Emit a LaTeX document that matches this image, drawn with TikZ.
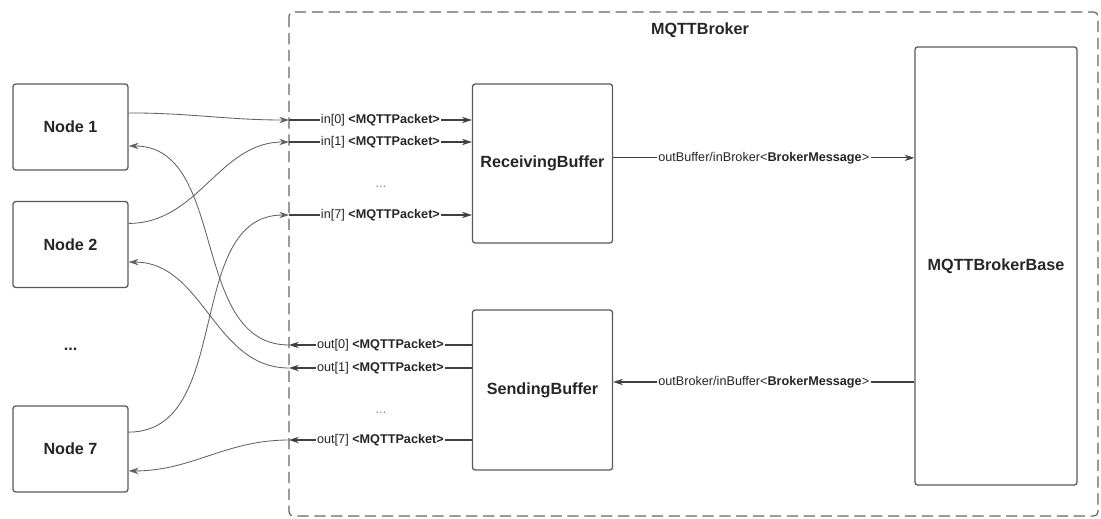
\documentclass[tikz,border=0pt]{standalone}
\usepackage{fontspec}
\setmainfont{Liberation Sans}
\usetikzlibrary{arrows.meta}

\tikzset{
  box/.style={draw=black!65, line width=0.9pt, rounded corners=2pt, align=center,
    text=black!85, font=\fontsize{11.5}{13}\selectfont\bfseries},
  conn/.style={draw=black!75, line width=0.8pt, -{Stealth[length=7pt,width=4.5pt]}},
  ext/.style={draw=black!62, line width=0.6pt, -{Stealth[length=7pt,width=4.5pt]}},
  lbl/.style={fill=white, inner sep=1pt, text=black!85, font=\fontsize{9}{10}\selectfont},
}

\begin{document}
\begin{tikzpicture}[x=0.025cm, y=-0.025cm]
\useasboundingbox (0,0) rectangle (1101,519);

% broker boundary
\draw[black!60, line width=0.9pt, dash pattern=on 8pt off 4pt, rounded corners=3pt] (289,12) rectangle (1098,516);
\node[text=black!85, font=\fontsize{11.5}{13}\selectfont\bfseries] (title) at (700,30) {MQTTBroker};

% clients
\node[box, minimum width=2.875cm, minimum height=2.15cm] (n1) at (70.5,127) {Node 1};
\node[box, minimum width=2.875cm, minimum height=2.15cm] (n2) at (70.5,244.5) {Node 2};
\node[text=black!85, font=\fontsize{11.5}{13}\selectfont\bfseries] (ndots) at (70.5,349) {...};
\node[box, minimum width=2.875cm, minimum height=2.15cm] (n7) at (70.5,449) {Node 7};

% broker parts
\node[box, minimum width=3.5cm, minimum height=3.975cm] (recv) at (542.5,163.5) {ReceivingBuffer};
\node[box, minimum width=3.5cm, minimum height=4cm] (send) at (542.5,390) {SendingBuffer};
\node[box, minimum width=4.05cm, minimum height=10.95cm] (base) at (996,266) {MQTTBrokerBase};

% ports on the boundary
\coordinate (pin0) at (289,120);
\coordinate (pin1) at (289,142);
\coordinate (pin7) at (289,215);
\coordinate (pout0) at (289,345);
\coordinate (pout1) at (289,368);
\coordinate (pout7) at (289,440);

\draw[conn] (pin0) -- node[lbl] {in[0] \textbf{<MQTTPacket>}} (pin0 -| recv.west);
\draw[conn] (pin1) -- node[lbl] {in[1] \textbf{<MQTTPacket>}} (pin1 -| recv.west);
\node[lbl, text=black!50] (dotsin) at (381,187) {...};
\draw[conn] (pin7) -- node[lbl] {in[7] \textbf{<MQTTPacket>}} (pin7 -| recv.west);

\draw[conn] (pout0 -| send.west) -- node[lbl] {out[0] \textbf{<MQTTPacket>}} (pout0);
\draw[conn] (pout1 -| send.west) -- node[lbl] {out[1] \textbf{<MQTTPacket>}} (pout1);
\node[lbl, text=black!50] (dotsout) at (381,413) {...};
\draw[conn] (pout7 -| send.west) -- node[lbl] {out[7] \textbf{<MQTTPacket>}} (pout7);

% buffers <-> base
\coordinate (rb) at ([yshift=4pt]recv.east);
\coordinate (bs) at ([yshift=5.7pt]send.east);
\draw[conn] (rb) -- node[lbl] {outBuffer/inBroker<\textbf{BrokerMessage}>} (rb -| base.west);
\draw[conn] (bs -| base.west) -- node[lbl] {outBroker/inBuffer<\textbf{BrokerMessage}>} (bs);

% clients <-> ports
\draw[ext] ([yshift=10pt]n1.east) to[out=0, in=180] (pin0);
\draw[ext] ([yshift=15pt]n2.east) to[out=0, in=180] (pin1);
\draw[ext] ([yshift=12pt]n7.east) to[out=0, in=180] (pin7);
\draw[ext] (pout0) to[out=180, in=0] ([yshift=-13.5pt]n1.east);
\draw[ext] (pout1) to[out=180, in=0] ([yshift=-12.5pt]n2.east);
\draw[ext] (pout7) to[out=180, in=0] ([yshift=-15.6pt]n7.east);

\end{tikzpicture}
\end{document}
